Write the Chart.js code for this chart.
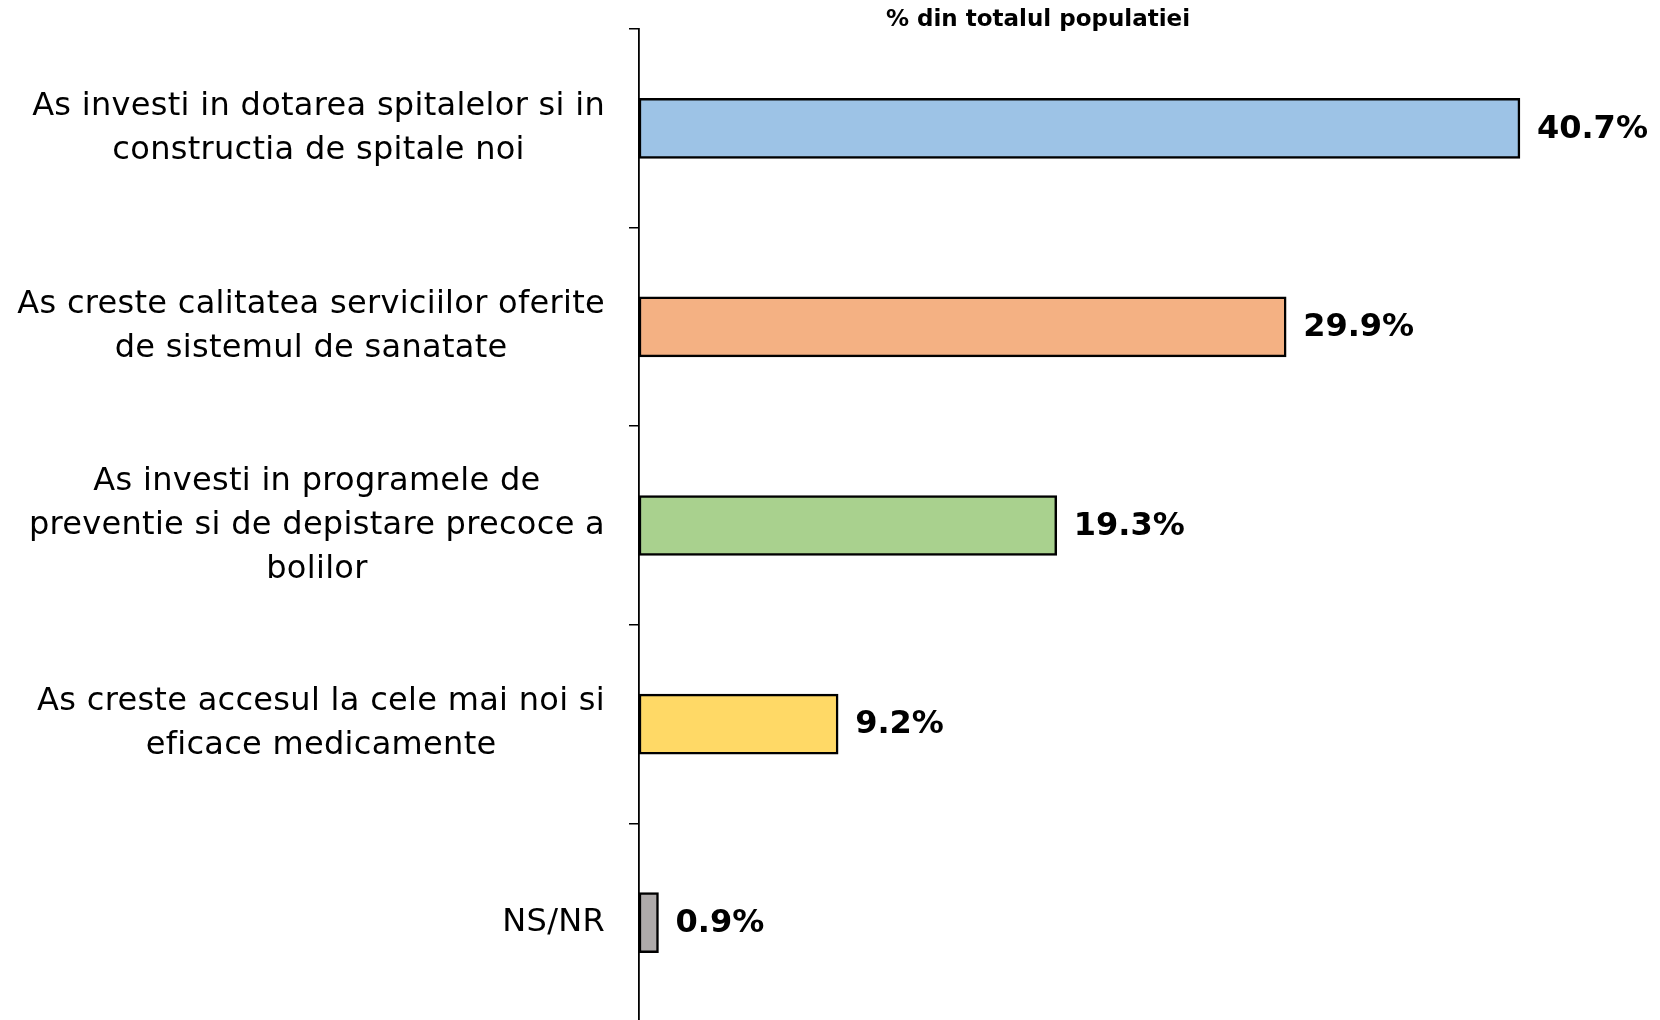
<!DOCTYPE html>
<html>
<head>
<meta charset="utf-8">
<script src="https://cdn.jsdelivr.net/npm/chart.js@4.4.1/dist/chart.umd.min.js"></script>
<style>
  html, body { margin: 0; padding: 0; background: #fff; overflow: hidden; }
  #wrap { width: 1660px; height: 1024px; }
</style>
</head>
<body>
<div id="wrap"><canvas id="c" width="1660" height="1024"></canvas></div>
<script>
const title = "% din totalul populatiei";
const categories = [
  ["As investi in dotarea spitalelor si in", "constructia de spitale noi"],
  ["As creste calitatea serviciilor oferite", "de sistemul de sanatate"],
  ["As investi in programele de", "preventie si de depistare precoce a", "bolilor"],
  ["As creste accesul la cele mai noi si", "eficace medicamente"],
  ["NS/NR"]
];
const values = [40.7, 29.9, 19.3, 9.2, 0.9];
const barColors = ["#9DC3E6", "#F4B183", "#A9D18E", "#FFD966", "#AEAAAA"];

const LABEL_FONT = '500 32px "DejaVu Sans"';
const VALUE_FONT = 'bold 32px "DejaVu Sans"';
const TITLE_FONT = 'bold 23px "DejaVu Sans"';

const labelPlugin = {
  id: 'customLabels',
  afterDraw(chart) {
    const ctx = chart.ctx;
    const y = chart.scales.y;
    ctx.save();
    ctx.fillStyle = '#000';
    ctx.textBaseline = 'middle';
    ctx.font = LABEL_FONT;
    if ('letterSpacing' in ctx) ctx.letterSpacing = '0.3px';
    ctx.textAlign = 'center';
    const lineH = 44;
    const rightEdge = 605;
    categories.forEach((lines, i) => {
      const cy = y.getPixelForValue(i);
      const widest = Math.max(...lines.map(l => ctx.measureText(l).width));
      const cx = rightEdge - widest / 2;
      const startY = cy - (lines.length - 1) * lineH / 2;
      lines.forEach((l, j) => ctx.fillText(l, cx, startY + j * lineH));
    });
    if ('letterSpacing' in ctx) ctx.letterSpacing = '0px';
    ctx.font = VALUE_FONT;
    ctx.textAlign = 'left';
    const meta = chart.getDatasetMeta(0);
    meta.data.forEach((bar, i) => {
      ctx.fillText(values[i].toFixed(1) + '%', bar.x + 17, bar.y + 1);
    });
    ctx.font = TITLE_FONT;
    ctx.textAlign = 'center';
    ctx.fillText(title, 1038, 20);
    ctx.restore();
  }
};

new Chart(document.getElementById('c'), {
  type: 'bar',
  data: {
    labels: categories,
    datasets: [{
      data: values,
      backgroundColor: barColors,
      borderColor: '#000',
      borderWidth: 2.5,
      borderSkipped: false,
      barThickness: 60
    }]
  },
  options: {
    indexAxis: 'y',
    responsive: false,
    animation: false,
    devicePixelRatio: 1,
    layout: { padding: { top: 29, bottom: 2, left: 0, right: 47 } },
    plugins: { legend: { display: false }, tooltip: { enabled: false }, title: { display: false } },
    scales: {
      x: { display: false, min: 0, max: 45 },
      y: {
        type: 'category',
        offset: true,
        grid: { display: true, drawOnChartArea: false, drawTicks: true, tickLength: 10, color: '#000', lineWidth: 1.5, offset: true },
        border: { display: true, color: '#000', width: 1.8 },
        ticks: { display: false },
        afterFit(scale) { scale.width = 639; }
      }
    }
  },
  plugins: [labelPlugin]
});
</script>
</body>
</html>
